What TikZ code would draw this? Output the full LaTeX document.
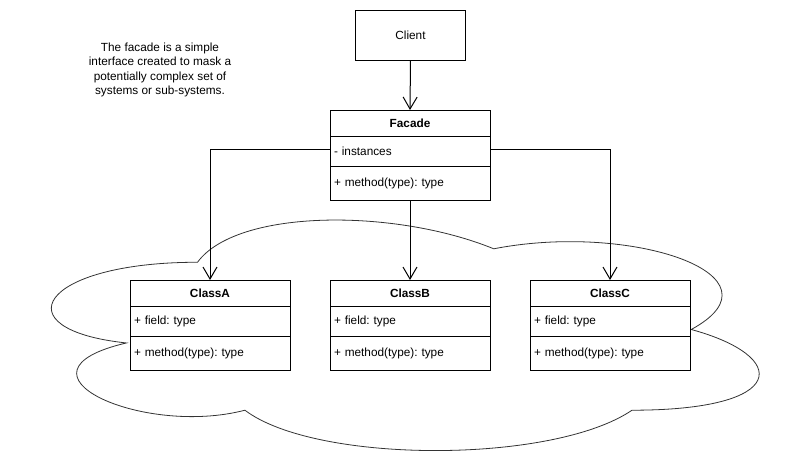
\documentclass[tikz,border=0pt]{standalone}
\usepackage{fontspec}
\setmainfont{Liberation Sans}
\usetikzlibrary{arrows.meta}
\frenchspacing
\begin{document}
\begin{tikzpicture}[x=1pt,y=-1pt,
  box/.style={draw, line width=1pt, fill=white, minimum width=160pt, inner sep=0pt, outer sep=0pt, font=\fontsize{11.8}{14}\selectfont},
  hdr/.style={box, minimum height=26pt, font=\fontsize{11.8}{14}\selectfont\bfseries},
  row/.style={box, text width=152pt, align=left, inner xsep=4pt},
  rowa/.style={row, minimum height=30pt},
  rowb/.style={row, minimum height=34pt},
  arr/.style={line width=1pt, -{Straight Barb[length=12pt,width=14pt]}},
  cloudline/.style={draw=black!80, line width=0.8pt}
]
\useasboundingbox (0,0) rectangle (792,466);
% cloud
\path[cloudline] (197.5,262.25)
  .. controls (39.5,262.25) and (0,329.5) .. (126.4,342.95)
  .. controls (0,372.5) and (142.2,437.1) .. (244.9,410.2)
  .. controls (316,464) and (553,464) .. (632,410.2)
  .. controls (790,410.2) and (790,356.4) .. (691.25,329.5)
  .. controls (790,275.7) and (632,221.9) .. (493.75,248.8)
  .. controls (395,208.45) and (237,208.45) .. (197.5,262.25) -- cycle;
% note
\node[align=center, font=\fontsize{11.8}{14.5}\selectfont] (note) at (160,70)
  {The facade is a simple\\interface created to mask a\\potentially complex set of\\systems or sub-systems.};
% client
\node[box, minimum width=110pt, minimum height=50pt] (client) at (410.5,35.5) {Client};
% facade
\node[hdr] (fh) at (410,123) {Facade};
\node[rowa, anchor=north] (fa) at (fh.south) {- instances};
\node[rowb, anchor=north] (fm) at (fa.south) {+ method(type): type};
% classes
\node[hdr] (ah) at (210,293) {ClassA};
\node[rowa, anchor=north] (aa) at (ah.south) {+ field: type};
\node[rowb, anchor=north] (am) at (aa.south) {+ method(type): type};
\node[hdr] (bh) at (410,293) {ClassB};
\node[rowa, anchor=north] (ba) at (bh.south) {+ field: type};
\node[rowb, anchor=north] (bm) at (ba.south) {+ method(type): type};
\node[hdr] (ch) at (610,293) {ClassC};
\node[rowa, anchor=north] (ca) at (ch.south) {+ field: type};
\node[rowb, anchor=north] (cm) at (ca.south) {+ method(type): type};
% connectors
\draw[arr] (client.south) -- (fh.north);
\draw[arr] ([yshift=2pt]fa.west) -| (ah.north);
\draw[arr] ([yshift=2pt]fa.east) -| (ch.north);
\draw[arr] (fm.south) -- (bh.north);
\end{tikzpicture}
\end{document}
